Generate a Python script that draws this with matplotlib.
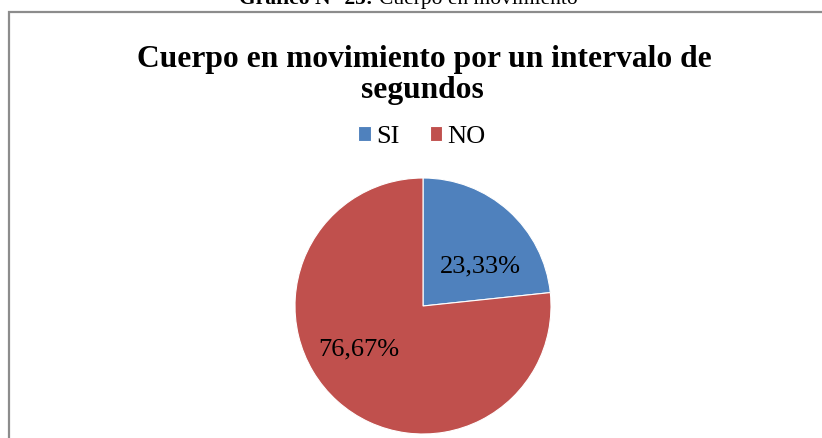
import numpy as np
import matplotlib.pyplot as plt
from matplotlib.patches import Rectangle

# data
categories = ['SI', 'NO']
percentages = [23.33, 76.67]
colors = ['#4F81BD', '#C0504D']
pct_labels = ['23,33%', '76,67%']

plt.rcParams['font.family'] = ['Liberation Serif', 'DejaVu Serif']

W, H = 822, 438
fig = plt.figure(figsize=(W / 100, H / 100), dpi=100)

# frame of the embedded chart (only top and left edges visible)
fig.add_artist(Rectangle((8.5 / W, -0.2), 1.2, 1.2 - 11.5 / H,
                         transform=fig.transFigure, fill=False,
                         edgecolor='#8c8c8c', lw=1.6, clip_on=False))

# caption cut off at the top
fig.text(373 / W, 1 - 4 / H, 'Gráfico N° 25:', ha='right', va='baseline',
         fontsize=15.5, fontweight='bold')
fig.text(379 / W, 1 - 4 / H, 'Cuerpo en movimiento', ha='left', va='baseline',
         fontsize=15.5)

# chart title (two lines)
fig.text(424 / W, 1 - 67 / H, 'Cuerpo en movimiento por un intervalo de',
         ha='center', va='baseline', fontsize=22.7, fontweight='bold')
fig.text(422 / W, 1 - 98 / H, 'segundos',
         ha='center', va='baseline', fontsize=22.7, fontweight='bold')

# pie
cx, cy, r = 423, 306, 128
ax = fig.add_axes([(cx - r) / W, (H - cy - r) / H, 2 * r / W, 2 * r / H])
wedges, _ = ax.pie(percentages, colors=colors, startangle=90, counterclock=False,
                   wedgeprops=dict(edgecolor='white', linewidth=0.8))
ax.set_xlim(-1, 1)
ax.set_ylim(-1, 1)
ax.set_aspect('equal')
ax.axis('off')

# percentage labels (positions as placed in the original)
label_pos = [(0.45, 0.31), (-0.50, -0.34)]
for lab, (x, y) in zip(pct_labels, label_pos):
    ax.text(x, y, lab, ha='center', va='center', fontsize=19)

fig.legend(wedges, categories, loc='center', bbox_to_anchor=(422 / W, 1 - 137 / H),
           ncol=2, frameon=False, fontsize=19, handlelength=0.48, handleheight=0.48,
           handletextpad=0.2, columnspacing=1.15, borderpad=0)

fig.savefig('out.png', dpi=100)
